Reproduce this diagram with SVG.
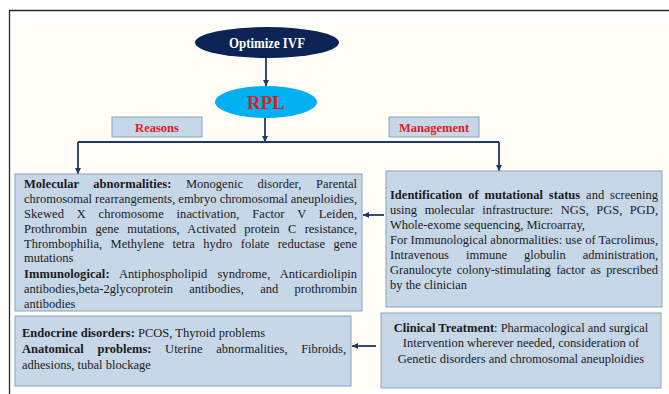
<svg xmlns="http://www.w3.org/2000/svg" width="669" height="394" viewBox="0 0 669 394">
<style>
.t{font-family:"Liberation Serif","Times New Roman",serif;font-size:12.5px;fill:#1a1a1a}
.b{font-weight:bold}
.box{fill:#c6d7e8;stroke:#8aa3be;stroke-width:1}
.lbl{fill:#c6d7e8;stroke:#8aa3be;stroke-width:1}
.red{font-family:"Liberation Serif","Times New Roman",serif;font-weight:bold;fill:#e31b23}
.con{fill:none;stroke:#1f3a66;stroke-width:1.8}
</style>
<defs>
<marker id="ah" markerUnits="userSpaceOnUse" markerWidth="6" markerHeight="6" refX="6" refY="3" orient="auto">
<path d="M0,0 L6,3 L0,6 z" fill="#1f3a66"/>
</marker>
</defs>
<rect width="669" height="394" fill="#ffffff"/>
<rect x="17" y="24" width="652" height="366" fill="#fffdf5"/>
<path d="M9.5,394 V10.5 H669" fill="none" stroke="#2b2b2b" stroke-width="1.3"/>

<g id="connectors">
<path class="con" d="M266,58 V86" marker-end="url(#ah)"/>
<path class="con" d="M265,118 V142" marker-end="url(#ah)"/>
<path class="con" d="M78,142 H499"/>
<path class="con" d="M78,142 V174" marker-end="url(#ah)"/>
<path class="con" d="M499,142 V171" marker-end="url(#ah)"/>
<path class="con" d="M384,215 H363" marker-end="url(#ah)"/>
<path class="con" d="M376,346 H352" marker-end="url(#ah)"/>
</g>

<g id="optimize">
<ellipse cx="267" cy="42.5" rx="72" ry="15.5" fill="#0c2356"/>
<text x="267" y="47.5" text-anchor="middle" font-family="Liberation Serif, Times New Roman, serif" font-weight="bold" font-size="14.5" fill="#ffffff" textLength="76" lengthAdjust="spacingAndGlyphs">Optimize IVF</text>
</g>

<g id="rpl">
<ellipse cx="266" cy="102" rx="51" ry="16" fill="#00b0f0"/>
<text x="266" y="108.5" text-anchor="middle" class="red" font-size="19">RPL</text>
</g>

<g id="reasons">
<rect class="lbl" x="112" y="117" width="90" height="20"/>
<text x="157" y="131.5" text-anchor="middle" class="red" font-size="12.5">Reasons</text>
</g>

<g id="management">
<rect class="lbl" x="389" y="117" width="90" height="20"/>
<text x="434" y="131.5" text-anchor="middle" class="red" font-size="12.5">Management</text>
</g>

<g id="molecular">
<rect class="box" x="15" y="174" width="347" height="137"/>
<text class="t" x="24" y="187.5" textLength="333" lengthAdjust="spacing" word-spacing="11.5"><tspan class="b">Molecular abnormalities:</tspan> Monogenic disorder, Parental</text>
<text class="t" x="24" y="202.5" textLength="333" lengthAdjust="spacing">chromosomal rearrangements, embryo chromosomal aneuploidies,</text>
<text class="t" x="24" y="217.5" textLength="333" lengthAdjust="spacing" word-spacing="9.6">Skewed X chromosome inactivation, Factor V Leiden,</text>
<text class="t" x="24" y="232.5" textLength="333" lengthAdjust="spacing" word-spacing="5.25">Prothrombin gene mutations, Activated protein C resistance,</text>
<text class="t" x="24" y="247.5" textLength="333" lengthAdjust="spacing" word-spacing="5.3">Thrombophilia, Methylene tetra hydro folate reductase gene</text>
<text class="t" x="24" y="262">mutations</text>
<text class="t" x="24" y="277.5" textLength="333" lengthAdjust="spacing" word-spacing="6.8"><tspan class="b">Immunological:</tspan> Antiphospholipid syndrome, Anticardiolipin</text>
<text class="t" x="24" y="292.5" textLength="333" lengthAdjust="spacing" word-spacing="13.2">antibodies,beta-2glycoprotein antibodies, and prothrombin</text>
<text class="t" x="24" y="307.5">antibodies</text>
</g>

<g id="identification">
<rect class="box" x="386" y="171" width="276" height="136"/>
<text class="t" x="390" y="198.5" textLength="268" lengthAdjust="spacing" word-spacing="2.8"><tspan class="b">Identification of mutational status</tspan> and screening</text>
<text class="t" x="390" y="213.5" textLength="268" lengthAdjust="spacing" word-spacing="4.4">using molecular infrastructure: NGS, PGS, PGD,</text>
<text class="t" x="390" y="228.5">Whole-exome sequencing, Microarray,</text>
<text class="t" x="390" y="243.5" textLength="268" lengthAdjust="spacing">For Immunological abnormalities: use of Tacrolimus,</text>
<text class="t" x="390" y="258.5" textLength="268" lengthAdjust="spacing" word-spacing="13.9">Intravenous immune globulin administration,</text>
<text class="t" x="390" y="273.5" textLength="268" lengthAdjust="spacing" word-spacing="2.2">Granulocyte colony-stimulating factor as prescribed</text>
<text class="t" x="390" y="288.5">by the clinician</text>
</g>

<g id="endocrine">
<rect class="box" x="15" y="316" width="336" height="70"/>
<text class="t" x="22" y="337"><tspan class="b">Endocrine disorders:</tspan> PCOS, Thyroid problems</text>
<text class="t" x="22" y="353" textLength="324" lengthAdjust="spacing" word-spacing="10.5"><tspan class="b">Anatomical problems:</tspan> Uterine abnormalities, Fibroids,</text>
<text class="t" x="22" y="369">adhesions, tubal blockage</text>
</g>

<g id="clinical">
<rect class="box" x="381" y="313" width="280" height="75"/>
<text class="t" x="521" y="331.5" text-anchor="middle"><tspan class="b">Clinical Treatment</tspan>: Pharmacological and surgical</text>
<text class="t" x="521" y="347" text-anchor="middle">Intervention wherever needed, consideration of</text>
<text class="t" x="521" y="362.5" text-anchor="middle">Genetic disorders and chromosomal aneuploidies</text>
</g>
</svg>
